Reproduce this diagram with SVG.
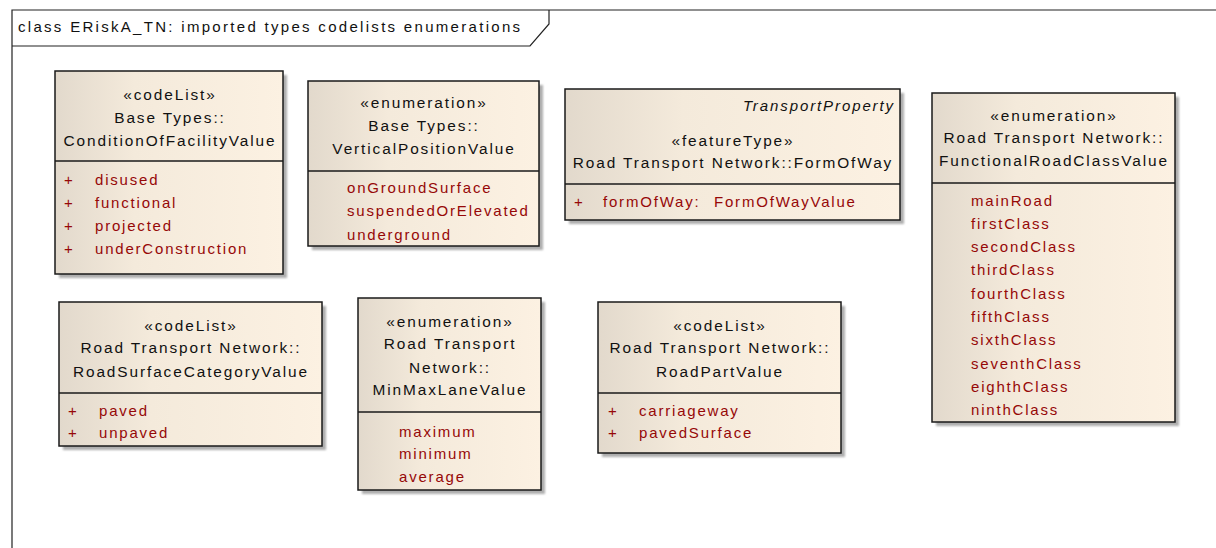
<svg xmlns="http://www.w3.org/2000/svg" width="1216" height="548" viewBox="0 0 1216 548">
<defs>
<linearGradient id="fill" x1="0" y1="0" x2="1" y2="0">
<stop offset="0" stop-color="#e2d9cc"/>
<stop offset="0.35" stop-color="#f4eadb"/>
<stop offset="1" stop-color="#fcf1e2"/>
</linearGradient>
<filter id="blur" x="-5%" y="-5%" width="110%" height="110%"><feGaussianBlur stdDeviation="1.2"/></filter>
</defs>
<style>
text{font-family:"Liberation Sans",Arial,sans-serif;font-size:15px;letter-spacing:1.9px}
.h{text-anchor:middle;fill:#111;font-size:15.4px}
.a{fill:#960808;letter-spacing:1.8px}
.box{fill:url(#fill);stroke:#1a1a1a;stroke-width:1.5}
.sh{fill:#8c8c8c;opacity:0.7;filter:url(#blur)}
.sep{stroke:#1a1a1a;stroke-width:1.5}
.frame{fill:none;stroke:#222;stroke-width:1.2}
</style>
<rect width="1216" height="548" fill="#ffffff"/>
<g id="frame">
<path class="frame" d="M12,548 V10 H1216"/>
<path class="frame" d="M12,46 H530 L549,24 V10"/>
<text x="18" y="32" style="fill:#111;letter-spacing:2.3px">class ERiskA_TN: imported types codelists enumerations</text>
</g>
<g id="connectors"></g>
<g id="ConditionOfFacilityValue">
<rect class="sh" x="59" y="75" width="228" height="203"/>
<rect class="box" x="55" y="71" width="228" height="203"/>
<line class="sep" x1="55" y1="161" x2="283" y2="161"/>
<text class="h" x="170" y="100">«codeList»</text>
<text class="h" x="170" y="123">Base Types::</text>
<text class="h" x="170" y="146">ConditionOfFacilityValue</text>
<text class="a" x="64" y="185">+</text><text class="a" x="95" y="185">disused</text>
<text class="a" x="64" y="208">+</text><text class="a" x="95" y="208">functional</text>
<text class="a" x="64" y="231">+</text><text class="a" x="95" y="231">projected</text>
<text class="a" x="64" y="254">+</text><text class="a" x="95" y="254">underConstruction</text>
</g>
<g id="VerticalPositionValue">
<rect class="sh" x="312" y="85" width="231" height="165"/>
<rect class="box" x="308" y="81" width="231" height="165"/>
<line class="sep" x1="308" y1="171" x2="539" y2="171"/>
<text class="h" x="424" y="108">«enumeration»</text>
<text class="h" x="424" y="131">Base Types::</text>
<text class="h" x="424" y="154">VerticalPositionValue</text>
<text class="a" x="347" y="193">onGroundSurface</text>
<text class="a" x="347" y="216">suspendedOrElevated</text>
<text class="a" x="347" y="240">underground</text>
</g>
<g id="FormOfWay">
<rect class="sh" x="569" y="93" width="335" height="131"/>
<rect class="box" x="565" y="89" width="335" height="131"/>
<line class="sep" x1="565" y1="184" x2="900" y2="184"/>
<text x="895" y="111" style="text-anchor:end;font-style:italic;fill:#111">TransportProperty</text>
<text class="h" x="733" y="146">«featureType»</text>
<text class="h" x="733" y="168">Road Transport Network::FormOfWay</text>
<text class="a" x="574" y="207">+</text><text class="a" x="603" y="207">formOfWay:</text><text class="a" x="714" y="207">FormOfWayValue</text>
</g>
<g id="FunctionalRoadClassValue">
<rect class="sh" x="936" y="97" width="243" height="329"/>
<rect class="box" x="932" y="93" width="243" height="329"/>
<line class="sep" x1="932" y1="183" x2="1175" y2="183"/>
<text class="h" x="1054" y="121">«enumeration»</text>
<text class="h" x="1054" y="143">Road Transport Network::</text>
<text class="h" x="1054" y="166">FunctionalRoadClassValue</text>
<text class="a" x="971" y="206">mainRoad</text>
<text class="a" x="971" y="229">firstClass</text>
<text class="a" x="971" y="252">secondClass</text>
<text class="a" x="971" y="275">thirdClass</text>
<text class="a" x="971" y="299">fourthClass</text>
<text class="a" x="971" y="322">fifthClass</text>
<text class="a" x="971" y="345">sixthClass</text>
<text class="a" x="971" y="369">seventhClass</text>
<text class="a" x="971" y="392">eighthClass</text>
<text class="a" x="971" y="415">ninthClass</text>
</g>
<g id="RoadSurfaceCategoryValue">
<rect class="sh" x="63" y="306" width="263" height="144"/>
<rect class="box" x="59" y="302" width="263" height="144"/>
<line class="sep" x1="59" y1="393" x2="322" y2="393"/>
<text class="h" x="191" y="331">«codeList»</text>
<text class="h" x="191" y="353">Road Transport Network::</text>
<text class="h" x="191" y="377">RoadSurfaceCategoryValue</text>
<text class="a" x="68" y="416">+</text><text class="a" x="99" y="416">paved</text>
<text class="a" x="68" y="438">+</text><text class="a" x="99" y="438">unpaved</text>
</g>
<g id="MinMaxLaneValue">
<rect class="sh" x="362" y="302" width="183" height="192"/>
<rect class="box" x="358" y="298" width="183" height="192"/>
<line class="sep" x1="358" y1="412" x2="541" y2="412"/>
<text class="h" x="450" y="327">«enumeration»</text>
<text class="h" x="450" y="349">Road Transport</text>
<text class="h" x="450" y="373">Network::</text>
<text class="h" x="450" y="395">MinMaxLaneValue</text>
<text class="a" x="399" y="437">maximum</text>
<text class="a" x="399" y="459">minimum</text>
<text class="a" x="399" y="482">average</text>
</g>
<g id="RoadPartValue">
<rect class="sh" x="602" y="306" width="243" height="151"/>
<rect class="box" x="598" y="302" width="243" height="151"/>
<line class="sep" x1="598" y1="393" x2="841" y2="393"/>
<text class="h" x="720" y="331">«codeList»</text>
<text class="h" x="720" y="353">Road Transport Network::</text>
<text class="h" x="720" y="377">RoadPartValue</text>
<text class="a" x="608" y="416">+</text><text class="a" x="639" y="416">carriageway</text>
<text class="a" x="608" y="438">+</text><text class="a" x="639" y="438">pavedSurface</text>
</g>
</svg>
